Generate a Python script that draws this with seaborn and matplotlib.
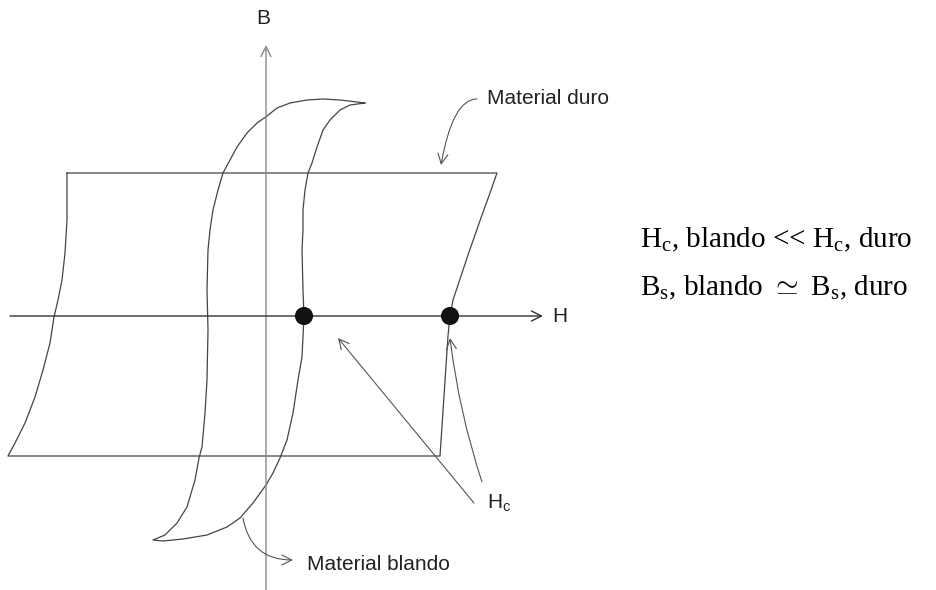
import matplotlib.pyplot as plt
import seaborn as sns

# Schematic B-H hysteresis loops: soft vs hard magnetic material.
# Coordinates are (H, B) with the origin at the axis crossing.

sns.set_theme(style="white")
plt.rcParams["font.family"] = ["Liberation Sans", "DejaVu Sans"]
plt.rcParams["mathtext.fontset"] = "custom"
plt.rcParams["mathtext.rm"] = "Liberation Serif"
plt.rcParams["mathtext.sf"] = "Liberation Sans"

# hard material loop (closed)
hard_H = [-199, 231, 224, 216, 209, 202, 192, 187, 184, 182, 174, -258, -251,
          -241, -231, -223, -216, -212, -208, -204, -201, -199, -199]
hard_B = [143, 143, 123, 101, 81, 61, 31, 16, 0, -20, -140, -140, -127,
          -107, -81, -54, -27, -1, 16, 36, 63, 96, 143]

# soft material loop (closed): outer branch, then inner branch back to the tip
soft_H = [99, 91, 74, 57, 41, 24, 11, 1, -9, -19, -29, -36, -43, -48, -53,
          -56, -58, -59, -58, -59, -61, -64, -67, -71, -79, -89, -101, -113,
          -103, -83, -59, -39, -26, -13, 0, 7, 14, 21, 27, 32, 36, 38, 37, 36,
          37, 37, 39, 42, 46, 51, 57, 64, 74, 84, 99]
soft_B = [213, 214, 216, 217, 216, 213, 208, 200, 193, 183, 169, 156, 143,
          126, 106, 86, 66, 26, -14, -64, -97, -131, -142, -164, -191, -207,
          -219, -224, -225, -223, -219, -211, -202, -187, -169, -157, -142,
          -124, -97, -64, -41, 0, 26, 66, 86, 106, 126, 143, 153, 169, 186,
          196, 206, 211, 213]

# coercive fields (soft, hard)
hc_H = [38, 184]
hc_B = [0, 0]

LINE = "#444444"
PTR = "#555555"
head = "->,head_length=0.6,head_width=0.3"

fig = plt.figure(figsize=(9.36, 5.9), dpi=100)
ax = fig.add_axes([0, 0, 1, 1])
ax.set_xlim(-266, 670)
ax.set_ylim(-274, 316)
ax.axis("off")

# axes with open arrowheads
ax.annotate("", xy=(0, 271), xytext=(0, -274),
            arrowprops=dict(arrowstyle=head, color="#8a8a8a", lw=1.0,
                            shrinkA=0, shrinkB=0, mutation_scale=12))
ax.annotate("", xy=(277, 0), xytext=(-256, 0),
            arrowprops=dict(arrowstyle=head, color="#333333", lw=1.0,
                            shrinkA=0, shrinkB=0, mutation_scale=12))
ax.text(-3, 298, "B", ha="center", va="center", fontsize=15, color="#222222")
ax.text(294, 0, "H", ha="center", va="center", fontsize=15, color="#222222")

sns.lineplot(x=hard_H, y=hard_B, sort=False, estimator=None, color=LINE,
             lw=0.9, ax=ax)
sns.lineplot(x=soft_H, y=soft_B, sort=False, estimator=None, color=LINE,
             lw=0.9, ax=ax)
sns.scatterplot(x=hc_H, y=hc_B, s=170, color="#111111", edgecolor="none",
                zorder=5, ax=ax)

# labels with curved pointers
ax.text(221, 217, "Material duro", ha="left", va="center", fontsize=15,
        color="#222222")
ax.annotate("", xy=(175, 151), xytext=(211, 217),
            arrowprops=dict(arrowstyle=head, color=PTR, lw=0.8,
                            shrinkA=0, shrinkB=0, mutation_scale=12,
                            connectionstyle="angle3,angleA=0,angleB=80"))
ax.text(41, -248, "Material blando", ha="left", va="center", fontsize=15,
        color="#222222")
ax.annotate("", xy=(27, -244), xytext=(-23, -202),
            arrowprops=dict(arrowstyle=head, color=PTR, lw=0.8,
                            shrinkA=0, shrinkB=0, mutation_scale=12,
                            connectionstyle="angle3,angleA=-80,angleB=0"))

# Hc pointers
ax.text(221, -187, r"H$_{\mathsf{c}}$", ha="left", va="center", fontsize=15,
        color="#222222")
ax.annotate("", xy=(hc_H[1], -22), xytext=(216, -166),
            arrowprops=dict(arrowstyle=head, color=PTR, lw=0.8,
                            shrinkA=0, shrinkB=0, mutation_scale=12,
                            connectionstyle="arc3,rad=-0.05"))
ax.annotate("", xy=(72, -22), xytext=(208, -187),
            arrowprops=dict(arrowstyle=head, color=PTR, lw=0.8,
                            shrinkA=0, shrinkB=0, mutation_scale=12))

# comparison text
ax.text(374, 69, r"H$_\mathrm{c}$, blando << H$_\mathrm{c}$, duro",
        ha="left", va="baseline", fontsize=21, color="black",
        family="Liberation Serif")
ax.text(374, 21, r"B$_\mathrm{s}$, blando $\simeq$ B$_\mathrm{s}$, duro",
        ha="left", va="baseline", fontsize=21, color="black",
        family="Liberation Serif")

fig.savefig("out.png", dpi=100)
